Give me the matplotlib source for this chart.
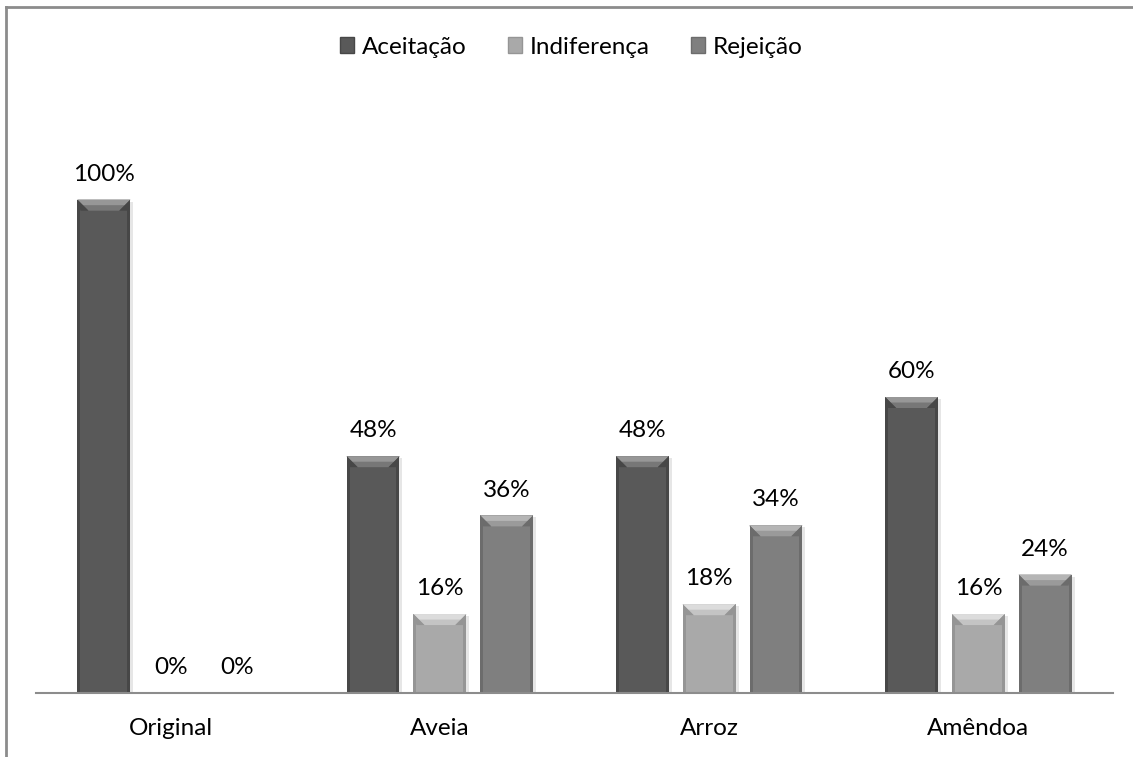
import matplotlib.pyplot as plt
import matplotlib.patches as mpatches
import numpy as np

plt.rcParams['font.family'] = ['Lato', 'DejaVu Sans']

categories = ['Original', 'Aveia', 'Arroz', 'Amêndoa']
series = ['Aceitação', 'Indiferença', 'Rejeição']
aceitacao = [100, 48, 48, 60]
indiferenca = [0, 16, 18, 16]
rejeicao = [0, 36, 34, 24]

body_colors = ['#595959', '#a9a9a9', '#7f7f7f']
top_colors = ['#979797', '#dcdcdc', '#b5b5b5']
mid_colors = ['#777777', '#c4c4c4', '#9a9a9a']
side_colors = ['#474747', '#959595', '#6c6c6c']

W, H = 1133, 757
fig = plt.figure(figsize=(W / 100, H / 100), dpi=100)
ax = fig.add_axes([36 / W, 64 / H, (1113 - 36) / W, (693 - 101) / H])

x = np.arange(len(categories))
width = 0.196
step = 0.248
ymax = 120
ax.set_xlim(-0.5, len(categories) - 0.5)
ax.set_ylim(0, ymax)

# bevel sizes in data units (about 11 px deep, 3 px sides)
px_x = (len(categories)) / (1113 - 36)
px_y = ymax / (693 - 101)
bev_x, bev_y = 11 * px_x, 11 * px_y
side = 3 * px_x

fs = 17.5

for i, vals in enumerate([aceitacao, indiferenca, rejeicao]):
    pos = x + (i - 1) * step
    bars = ax.bar(pos, vals, width, color=body_colors[i], zorder=2)
    for b, v in zip(bars, vals):
        ax.text(b.get_x() + width / 2, v + 3.0, f'{v}%', ha='center', va='bottom',
                fontsize=fs, color='#000000')
        if v <= 0:
            continue
        x0, x1, y1 = b.get_x(), b.get_x() + width, v
        # faint drop shadow on the right
        ax.add_patch(mpatches.Rectangle((x1, 0), 3 * px_x, y1 - 2 * px_y,
                                        color='#e6e6e6', zorder=1, lw=0))
        # darker side edges
        ax.add_patch(mpatches.Rectangle((x0, 0), side, y1, color=side_colors[i],
                                        zorder=3, lw=0))
        ax.add_patch(mpatches.Rectangle((x1 - side, 0), side, y1, color=side_colors[i],
                                        zorder=3, lw=0))
        # bevelled top face, lighter towards the top edge
        ax.add_patch(mpatches.Polygon([(x0, y1), (x1, y1), (x1 - bev_x, y1 - bev_y),
                                       (x0 + bev_x, y1 - bev_y)],
                                      closed=True, color=mid_colors[i], zorder=4, lw=0))
        h = 0.5
        ax.add_patch(mpatches.Polygon([(x0, y1), (x1, y1),
                                       (x1 - bev_x * h, y1 - bev_y * h),
                                       (x0 + bev_x * h, y1 - bev_y * h)],
                                      closed=True, color=top_colors[i], zorder=4, lw=0))
        ax.add_patch(mpatches.Polygon([(x0, y1), (x0 + bev_x, y1 - bev_y),
                                       (x0 + side, y1 - bev_y)],
                                      closed=True, color=side_colors[i], zorder=4, lw=0))
        ax.add_patch(mpatches.Polygon([(x1, y1), (x1 - bev_x, y1 - bev_y),
                                       (x1 - side, y1 - bev_y)],
                                      closed=True, color=side_colors[i], zorder=4, lw=0))

for s in ['top', 'right', 'left']:
    ax.spines[s].set_visible(False)
ax.spines['bottom'].set_color('#8c8c8c')
ax.spines['bottom'].set_linewidth(1.5)
ax.spines['bottom'].set_zorder(5)
ax.set_yticks([])
ax.set_xticks(x)
ax.set_xticklabels(categories, fontsize=fs)
ax.tick_params(axis='x', length=0, pad=18)

handles = [mpatches.Patch(facecolor=c, edgecolor=s, linewidth=1)
           for c, s in zip(body_colors, side_colors)]
fig.legend(handles, series, loc='center', bbox_to_anchor=(571 / W, 1 - 47 / H),
           ncol=3, frameon=False, fontsize=fs, handlelength=0.6, handleheight=0.6,
           handletextpad=0.3, columnspacing=1.7)

# chart outline, clipped at the right and bottom
fig.add_artist(plt.Line2D([6 / W, 6 / W], [0, 1 - 7 / H], color='#8c8c8c', lw=2))
fig.add_artist(plt.Line2D([6 / W, 1], [1 - 7 / H, 1 - 7 / H], color='#8c8c8c', lw=2))

fig.savefig('out.png', dpi=100)
